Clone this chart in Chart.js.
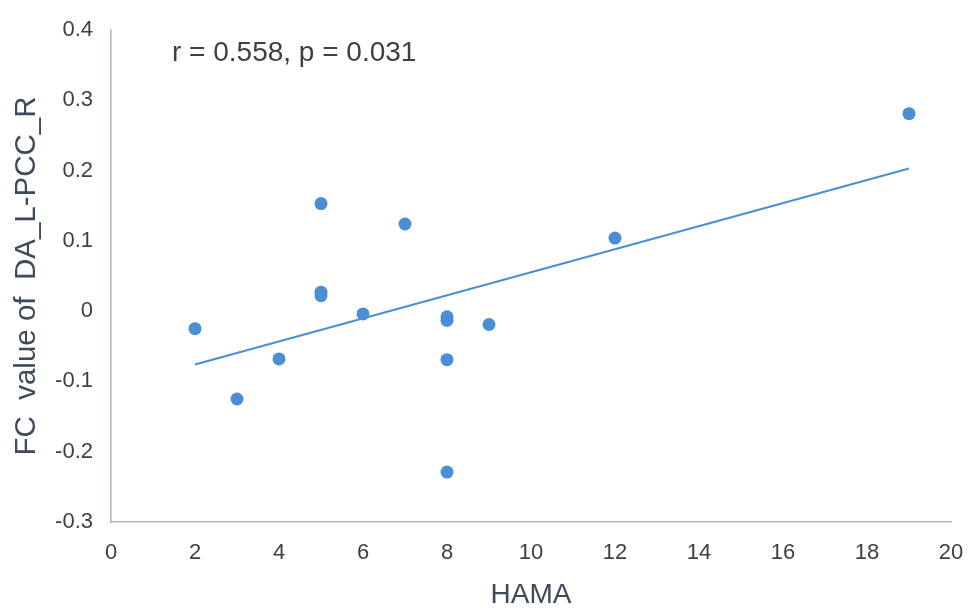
<!DOCTYPE html>
<html>
<head>
<meta charset="utf-8">
<script src="https://cdn.jsdelivr.net/npm/chart.js@4/dist/chart.umd.min.js"></script>
<style>
  html, body { margin: 0; padding: 0; background: #ffffff; }
  #wrap { width: 970px; height: 609px; position: relative; }
</style>
</head>
<body>
<div id="wrap"><canvas id="c" width="970" height="609"></canvas></div>
<script>
const hama = [2, 3, 4, 5, 5, 5, 6, 7, 8, 8, 8, 8, 9, 12, 19];
const fcValue = [-0.025, -0.125, -0.068, 0.153, 0.027, 0.022, -0.004, 0.124, -0.008, -0.013, -0.069, -0.229, -0.019, 0.104, 0.281];
const trendX = [2, 19];
const trendY = [-0.076, 0.203];
const xTitle = 'HAMA';
const yTitle = 'FC  value of  DA_L-PCC_R';
const statText = 'r = 0.558, p = 0.031';

const FONT = "'Liberation Sans', Arial, sans-serif";
const BLUE = '#4a8fd6';

const points = hama.map((x, i) => ({ x: x, y: fcValue[i] }));
const trend = trendX.map((x, i) => ({ x: x, y: trendY[i] }));

const annotationPlugin = {
  id: 'statText',
  afterDraw(chart) {
    const ctx = chart.ctx;
    ctx.save();
    ctx.font = '28px ' + FONT;
    ctx.fillStyle = '#404040';
    ctx.textAlign = 'left';
    ctx.textBaseline = 'alphabetic';
    ctx.fillText(statText, 172, 61);
    ctx.restore();
  }
};

new Chart(document.getElementById('c'), {
  type: 'scatter',
  data: {
    datasets: [
      {
        label: 'trend',
        type: 'line',
        data: trend,
        borderColor: BLUE,
        borderWidth: 2,
        pointRadius: 0,
        fill: false,
        tension: 0
      },
      {
        label: 'FC',
        data: points,
        backgroundColor: BLUE,
        borderColor: BLUE,
        borderWidth: 0,
        pointRadius: 6.5,
        pointHoverRadius: 6.5
      }
    ]
  },
  options: {
    responsive: false,
    animation: false,
    devicePixelRatio: 1,
    layout: { padding: { left: 0, right: 19, top: 30, bottom: 0 } },
    plugins: {
      legend: { display: false },
      tooltip: { enabled: false }
    },
    scales: {
      x: {
        type: 'linear',
        min: 0, max: 20,
        afterFit(scale) { scale.height = 87; scale.paddingRight = 0; },
        grid: { display: true, drawOnChartArea: false, drawTicks: true, tickLength: 18, color: 'rgba(0,0,0,0)' },
        border: { display: true, color: '#aab4c5', width: 1.5 },
        ticks: {
          stepSize: 2,
          padding: 0,
          color: '#404040',
          font: { family: FONT, size: 22 }
        },
        title: {
          display: true,
          text: xTitle,
          color: '#3e4a5a',
          font: { family: FONT, size: 28 },
          padding: { top: 0, bottom: -3 }
        }
      },
      y: {
        type: 'linear',
        min: -0.3, max: 0.4,
        afterFit(scale) { scale.width = 111; },
        grid: { display: true, drawOnChartArea: false, drawTicks: true, tickLength: 18, color: 'rgba(0,0,0,0)' },
        border: { display: true, color: '#aab4c5', width: 1.5 },
        ticks: {
          stepSize: 0.1,
          padding: 0,
          color: '#404040',
          font: { family: FONT, size: 22 },
          callback: (v) => String(Math.round(v * 10) / 10)
        },
        title: {
          display: true,
          text: yTitle,
          color: '#3e4a5a',
          font: { family: FONT, size: 29.5 },
          padding: { top: 9, bottom: 0 }
        }
      }
    }
  },
  plugins: [annotationPlugin]
});
</script>
</body>
</html>
